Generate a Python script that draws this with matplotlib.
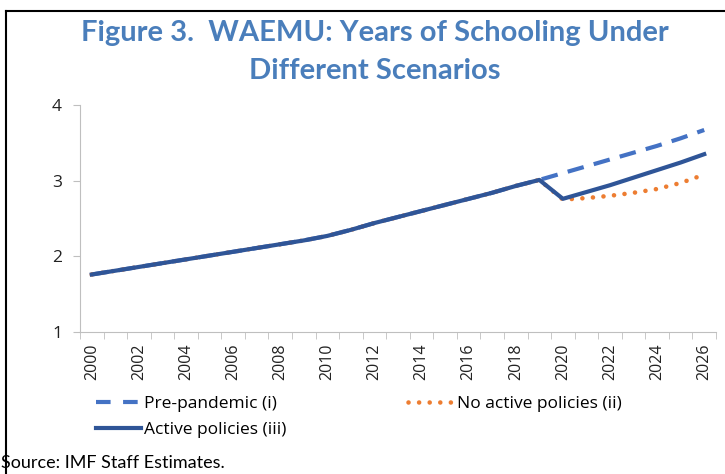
import numpy as np
import matplotlib.pyplot as plt
from matplotlib.lines import Line2D

# years on the x axis
years = list(range(2000, 2027))

# historic path, shared by all scenarios up to 2019
history = [1.76, 1.81, 1.86, 1.91, 1.96, 2.01, 2.06, 2.11, 2.16, 2.21,
           2.27, 2.35, 2.44, 2.52, 2.60, 2.68, 2.76, 2.84, 2.93, 3.01]

# scenarios 2020-2026
pre_pandemic_tail = [3.10, 3.19, 3.28, 3.37, 3.46, 3.56, 3.67]
no_active_tail = [2.75, 2.77, 2.80, 2.84, 2.89, 2.97, 3.08]
active_tail = [2.76, 2.85, 2.94, 3.04, 3.14, 3.24, 3.35]

pre_pandemic = history + pre_pandemic_tail
no_active = history + no_active_tail
active = history + active_tail

title_color = '#4A7EBB'
c_pre = '#4472C4'
c_none = '#ED7D31'
c_act = '#2F5597'

plt.rcParams['font.family'] = ['Open Sans', 'DejaVu Sans']

fig = plt.figure(figsize=(7.25, 4.74), dpi=100)
ax = fig.add_axes([80/725, 1-332/474, 636/725, 227/474])

x = np.arange(len(years))
dash = (0, (4, 2.5))
dots = (0, (0.01, 2.3))
ax.plot(x, pre_pandemic, color=c_pre, lw=3, ls=dash, label='Pre-pandemic (i)')
ax.plot(x, no_active, color=c_none, lw=3.3, ls=dots, dash_capstyle='round',
        label='No active policies (ii)')
ax.plot(x, active, color=c_act, lw=3, label='Active policies (iii)')

ax.set_xlim(-0.5, len(years) - 0.5)
ax.set_ylim(1, 4)
ax.set_yticks([1, 2, 3, 4])
ax.set_xticks(x[::2])
ax.set_xticklabels([str(y) for y in years[::2]], rotation=90)
ax.set_xticks(np.arange(-0.5, len(years), 1), minor=True)
ax.tick_params(axis='x', which='major', length=0, pad=8, labelsize=11.5, colors='#222222')
ax.tick_params(axis='x', which='minor', length=5, color='#BFBFBF')
ax.tick_params(axis='y', length=5, labelsize=12.5, pad=8, colors='#222222')
ax.tick_params(axis='y', color='#BFBFBF')
for s in ['top', 'right']:
    ax.spines[s].set_visible(False)
for s in ['left', 'bottom']:
    ax.spines[s].set_color('#BFBFBF')

# legend: column 1 = pre-pandemic, active; column 2 = no active policies
handles = [
    Line2D([], [], color=c_pre, lw=3, ls=(0, (3.5, 3))),
    Line2D([], [], color=c_act, lw=3),
    Line2D([], [], color=c_none, lw=3.3, ls=dots, dash_capstyle='round'),
]
labels = ['Pre-pandemic (i)', 'Active policies (iii)', 'No active policies (ii)']
fig.legend(handles, labels, loc='upper left', bbox_to_anchor=(80/725, 1-380/474), ncol=2,
           frameon=False, fontsize=12.5, handlelength=2.6, handletextpad=0.2,
           columnspacing=7.0, labelspacing=0.6)

fig.text(375/725, 1-33/474, 'Figure 3.  WAEMU: Years of Schooling Under',
         ha='center', va='center', fontsize=21, fontweight='bold', color=title_color,
         family=['Lato', 'DejaVu Sans'])
fig.text(375/725, 1-71/474, 'Different Scenarios',
         ha='center', va='center', fontsize=21, fontweight='bold', color=title_color,
         family=['Lato', 'DejaVu Sans'])
fig.text(0.001, 1-463/474, 'Source: IMF Staff Estimates.', ha='left', va='center',
         fontsize=13, family=['Lato', 'DejaVu Sans'])

# border of the figure box
fig.add_artist(Line2D([6/725, 1], [1-11/474, 1-11/474], color='black', lw=1.5))
fig.add_artist(Line2D([6/725, 6/725], [0, 1-11/474], color='black', lw=1.5))

fig.savefig('out.png', dpi=100)
